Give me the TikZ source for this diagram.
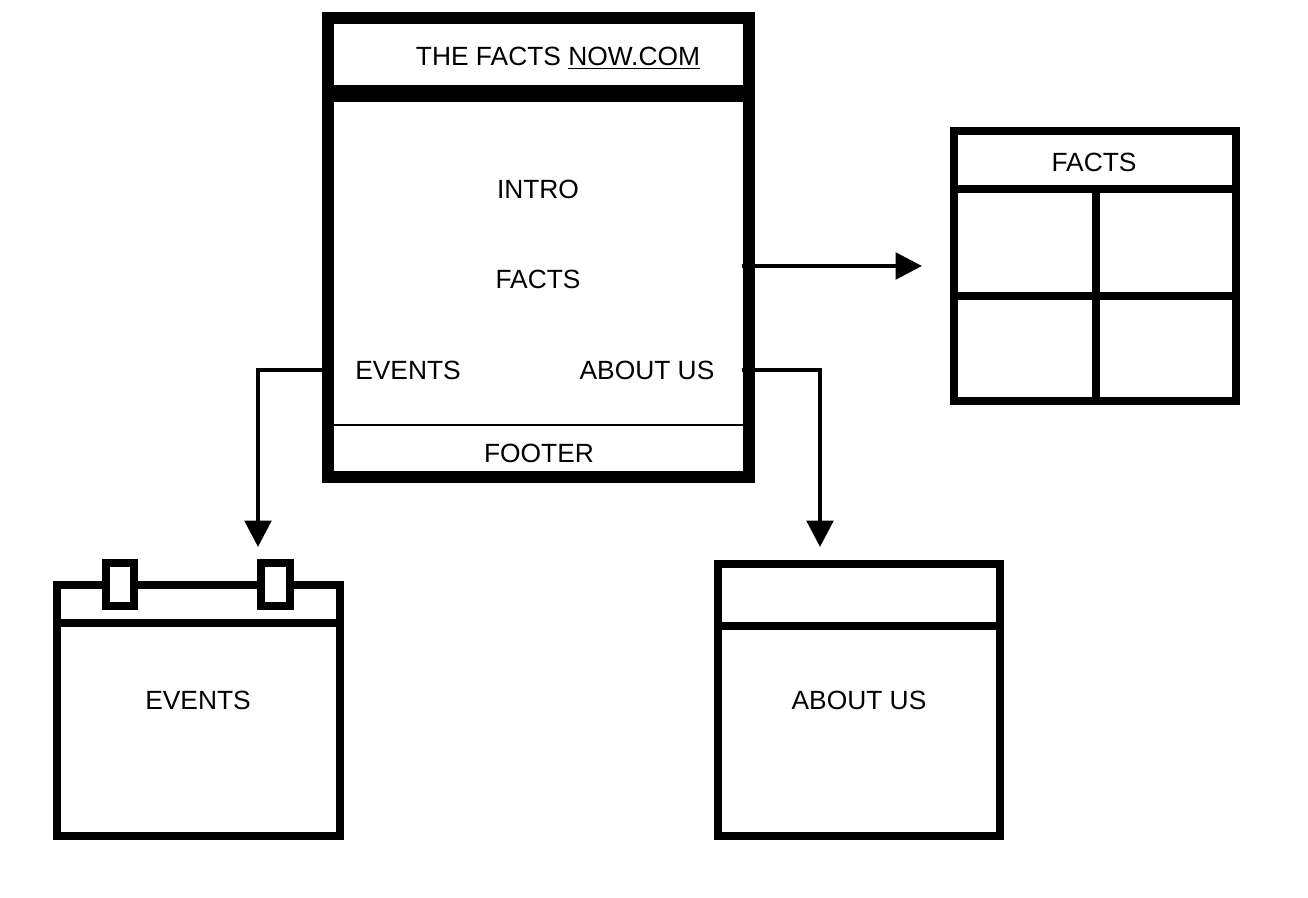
\documentclass[tikz,border=0pt]{standalone}
\usepackage{fontspec}
\setmainfont{Liberation Sans}
\usetikzlibrary{arrows.meta}
\tikzset{
  heavy/.style={line width=6.8pt},
  frame/.style={line width=4.6pt},
  link/.style={line width=2.4pt, -{Triangle[length=15pt,width=15pt]}},
  lbl/.style={font=\fontsize{15}{18}\selectfont, inner sep=0pt}
}
\begin{document}
\begin{tikzpicture}[x=0.02cm, y=-0.02cm]
  \useasboundingbox (0,0) rectangle (1308,898);

  % home page
  \draw [heavy] (328,18) rectangle (749,477);
  \fill (332,85) rectangle (747,102);
  \draw [line width=1.2pt] (332,425) -- (747,425);
  \node [lbl] (title) at (558,58) {THE FACTS \underline{NOW.COM}};
  \node [lbl] (intro) at (538,189) {INTRO};
  \node [lbl] (facts) at (538,279) {FACTS};
  \node [lbl] (events) at (408,370) {EVENTS};
  \node [lbl] (about) at (647,370) {ABOUT US};
  \node [lbl] (footer) at (539,453) {FOOTER};

  % facts page
  \draw [frame] (954,131) rectangle (1236,401);
  \draw [frame] (954,189) -- (1236,189);
  \draw [frame] (954,296) -- (1236,296);
  \draw [frame] (1096,189) -- (1096,401);
  \node [lbl] (factstitle) at (1094,162) {FACTS};
  \coordinate (factsin) at (922,266);

  % events page
  \draw [frame] (57,585) rectangle (340,836);
  \draw [frame] (57,623) -- (340,623);
  \draw [frame, fill=white] (106,563) rectangle (134,606);
  \draw [frame, fill=white] (261,563) rectangle (290,606);
  \node [lbl] (eventspage) at (198,700) {EVENTS};
  \coordinate (eventsin) at (258,547);

  % about page
  \draw [frame] (718,564) rectangle (1000,836);
  \draw [frame] (718,626) -- (1000,626);
  \node [lbl] (aboutpage) at (859,700) {ABOUT US};
  \coordinate (aboutin) at (820,547);

  % links
  \coordinate (factsout) at (742,266);
  \coordinate (eventsout) at (324,370);
  \coordinate (aboutout) at (742,370);
  \draw [link] (factsout) -- (factsin);
  \draw [link] (eventsout) -| (eventsin);
  \draw [link] (aboutout) -| (aboutin);
\end{tikzpicture}
\end{document}
